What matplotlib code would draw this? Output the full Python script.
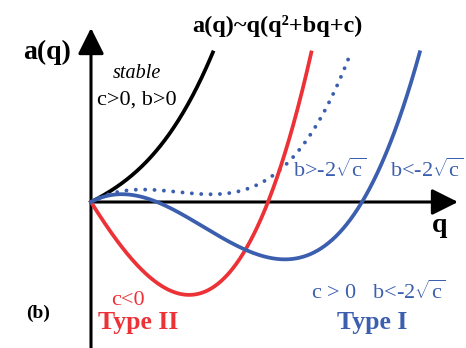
import matplotlib
matplotlib.use("Agg")
import matplotlib.pyplot as plt
import numpy as np

plt.rcParams['font.family'] = ['Liberation Serif', 'DejaVu Serif']
plt.rcParams['mathtext.fontset'] = 'custom'
plt.rcParams['mathtext.rm'] = 'Liberation Serif'
plt.rcParams['mathtext.it'] = 'Liberation Serif:italic'
plt.rcParams['mathtext.bf'] = 'Liberation Serif:bold'

# a(q) ~ q(q^2 + b q + c), one (b, c) pair per curve
curve_names = ["stable", "b>-2sqrt(c)", "Type II", "Type I"]
b_vals = [0.74, -2.58, 1.25, -3.37]
c_vals = [1.705, 1.87, -5.345, 1.7886]
a_top = 5.0         # curves stop where they leave the top of the drawing

RED = '#EC3237'
BLUE = '#3B5FAE'
styles = [
    dict(color='k', lw=2.7, ls='-'),
    dict(color=BLUE, lw=2.8, ls=(0, (0.01, 2.4)), dash_capstyle='round'),
    dict(color=RED, lw=2.7, ls='-'),
    dict(color=BLUE, lw=2.7, ls='-'),
]
SQRT_C = r'$\sqrt{\mathrm{c}}$'

fig = plt.figure(figsize=(4.66, 3.48), dpi=100)
ax = fig.add_axes([0, 0, 1, 1])
ax.set_xlim(-0.91, 3.75)
ax.set_ylim(-146 / 30, 202 / 30)
ax.axis('off')

q = np.linspace(0, 4, 2000)
for b, c, st in zip(b_vals, c_vals, styles):
    a = q * (q ** 2 + b * q + c)
    keep = np.cumsum(a > a_top) == 0
    ax.plot(q[keep], a[keep], zorder=3, **st)

# axes with arrow heads
arrow = dict(arrowstyle='-|>', lw=2.2, color='k', mutation_scale=40,
             shrinkA=0, shrinkB=0)
ax.annotate('', xy=(0, 5.8), xytext=(0, -5.0), arrowprops=arrow, zorder=2)
ax.annotate('', xy=(3.67, 0), xytext=(0, 0), arrowprops=arrow, zorder=2)

ax.text(-0.44, 5.0, 'a(q)', fontsize=20, fontweight='bold', ha='center', va='center')
ax.text(1.86, 5.87, 'a(q)~q(q²+bq+c)', fontsize=17.5, fontweight='bold',
        ha='center', va='center')
ax.text(3.49, -0.8, 'q', fontsize=20, fontweight='bold', ha='center', va='center')
ax.text(-0.53, -3.7, '(b)', fontsize=14, fontweight='bold', ha='center', va='center')

ax.text(0.46, 4.27, 'stable', fontsize=14.5, style='italic', ha='center', va='center')
ax.text(0.46, 3.4, 'c>0, b>0', fontsize=16, ha='center', va='center')

ax.text(2.39, 1.07, 'b>-2' + SQRT_C, fontsize=16, color=BLUE,
        ha='center', va='center')
ax.text(3.36, 1.07, 'b<-2' + SQRT_C, fontsize=16, color=BLUE,
        ha='center', va='center')

ax.text(0.37, -3.27, 'c<0', fontsize=16, color=RED, ha='center', va='center')
ax.text(0.47, -4.0, 'Type II', fontsize=18.5, fontweight='bold', color=RED,
        ha='center', va='center')

ax.text(2.87, -3.0, 'c > 0   b<-2' + SQRT_C, fontsize=16, color=BLUE,
        ha='center', va='center')
ax.text(2.81, -4.0, 'Type I', fontsize=18.5, fontweight='bold', color=BLUE,
        ha='center', va='center')

fig.savefig('out.png', dpi=100)
